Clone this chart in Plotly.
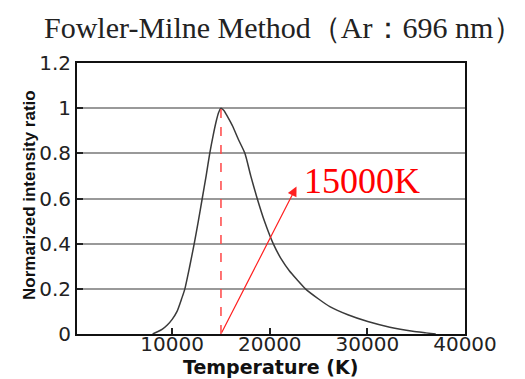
import plotly.graph_objects as go

# Fowler-Milne normalized intensity ratio vs. temperature (Ar 696 nm line)
temperature_k = [8000, 8500, 9000, 9500, 10000, 10500, 11000, 11300, 11800, 12260,
                 12680, 13080, 13480, 13850, 14200, 14500, 14750, 15000, 15300,
                 15700, 16200, 16800, 17450, 18050, 18710, 19450, 20350, 21200,
                 22000, 22800, 23650, 25000, 26150, 28000, 30040, 32300, 34650,
                 36000, 37000]
intensity_ratio = [0.0, 0.01, 0.022, 0.04, 0.065, 0.1, 0.16, 0.2, 0.3, 0.4,
                   0.5, 0.6, 0.7, 0.8, 0.88, 0.94, 0.98, 1.0, 0.99,
                   0.96, 0.92, 0.86, 0.8, 0.7, 0.6, 0.5, 0.4, 0.33,
                   0.28, 0.24, 0.2, 0.155, 0.121, 0.085, 0.055, 0.03, 0.012,
                   0.005, 0.0]

peak_temperature = 15000
peak_label = "15000K"
x_ticks = [10000, 20000, 30000, 40000]
y_ticks = [0, 0.2, 0.4, 0.6, 0.8, 1, 1.2]
y_tick_text = ["0", "0.2", "0.4", "0.6", "0.8", "1", "1.2"]

# plot-area geometry in pixels
W, H = 525, 379
L, R, T, B = 77, 60, 63, 45
PW, PH = W - L - R, H - T - B


def px_x(px):
    return (px - L) / PW


def px_y(py):
    return (H - B - py) / PH


fig = go.Figure()

fig.add_trace(go.Scatter(
    x=temperature_k, y=intensity_ratio, mode="lines",
    line=dict(color="#3a3a3a", width=1.5, shape="spline", smoothing=0.6),
    showlegend=False, hoverinfo="skip",
))

# dashed marker at the peak temperature
fig.add_shape(type="line", x0=peak_temperature, x1=peak_temperature, y0=0, y1=1,
              xref="x", yref="y", line=dict(color="rgb(255,70,70)", width=1.5, dash="dash"))

# arrow pointing to the peak-temperature label
fig.add_annotation(
    x=22740, y=0.653, ax=peak_temperature, ay=0, xref="x", yref="y",
    axref="x", ayref="y", text="", showarrow=True,
    arrowhead=2, arrowsize=1.6, arrowwidth=1.2, arrowcolor="#ff2020",
)
fig.add_annotation(
    x=23300, y=0.676, xref="x", yref="y", text=peak_label, showarrow=False,
    xanchor="left", yanchor="middle",
    font=dict(family="Liberation Serif, Times New Roman, serif", size=36, color="#ff0000"),
)

# title
fig.add_annotation(
    x=px_x(283), y=px_y(27), xref="paper", yref="paper",
    text="Fowler-Milne Method（Ar：696 nm）",
    showarrow=False, xanchor="center", yanchor="middle",
    font=dict(family="Liberation Serif, Times New Roman, serif", size=30, color="#222"),
)

# x-axis caption
fig.add_annotation(
    x=px_x(270), y=px_y(367), xref="paper", yref="paper", text="Temperature (K)",
    showarrow=False, xanchor="center", yanchor="middle",
    font=dict(family="DejaVu Sans", size=19, color="#111", weight="bold"),
)

# rotated y-axis caption, drawn over the tick labels
fig.add_annotation(
    x=px_x(29), y=px_y(195), xref="paper", yref="paper", text="Normarized intensity ratio",
    showarrow=False, textangle=-90, xanchor="center", yanchor="middle",
    font=dict(family="Liberation Sans, Arial", size=17, color="#111", weight="bold"),
)

fig.update_layout(
    width=W, height=H,
    margin=dict(l=L, r=R, t=T, b=B),
    paper_bgcolor="white", plot_bgcolor="white",
    xaxis=dict(
        range=[250, 40000], tickvals=x_ticks, ticktext=[str(v) for v in x_ticks],
        ticks="inside", ticklen=6, tickwidth=1.5, tickcolor="#222",
        ticklabelstandoff=-9,
        showgrid=False, zeroline=False, automargin=False,
        showline=True, linecolor="#111", linewidth=2, mirror=True,
        tickfont=dict(family="DejaVu Sans", size=20, color="#222"),
    ),
    yaxis=dict(
        range=[0, 1.2], tickvals=y_ticks, ticktext=y_tick_text,
        ticks="inside", ticklen=6, tickwidth=1.5, tickcolor="#222",
        showgrid=True, gridcolor="#999", gridwidth=1.5, zeroline=False, automargin=False,
        showline=True, linecolor="#111", linewidth=2, mirror=True,
        tickfont=dict(family="DejaVu Sans", size=20, color="#222"),
    ),
)

fig.write_html("out.html")
